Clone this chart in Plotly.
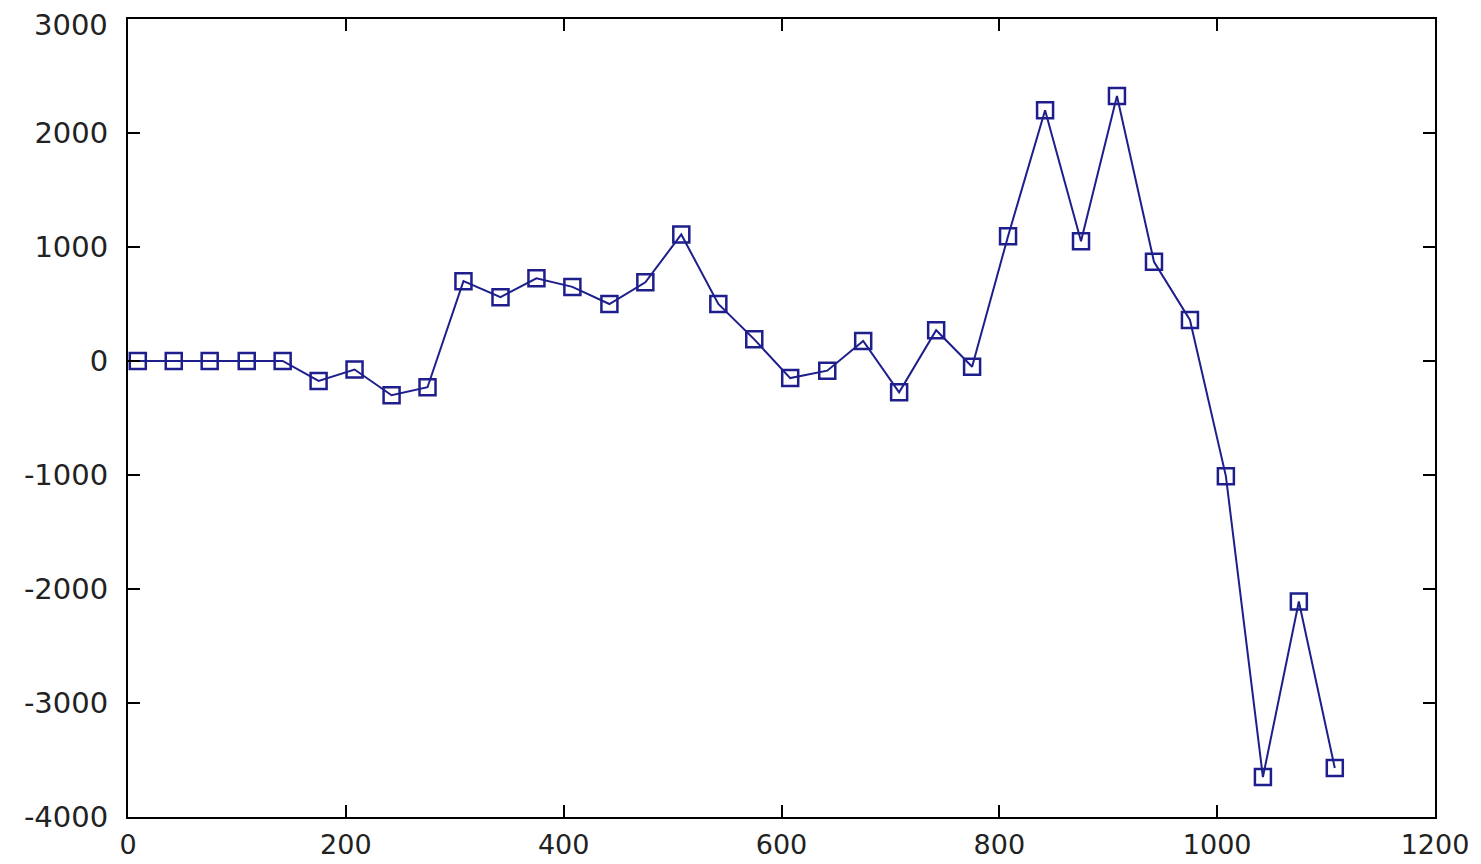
import plotly.graph_objects as go

x_vals = [9, 42, 75, 109, 142, 175, 208, 242, 275, 308, 342, 375, 408,
          442, 475, 508, 542, 575, 608, 642, 675, 708, 742, 775, 808,
          842, 875, 908, 942, 975, 1008, 1042, 1075, 1108]
y_vals = [0, 0, 0, 0, 0, -175, -75, -300, -230, 700, 560, 725, 650,
          500, 690, 1110, 500, 190, -150, -85, 175, -275, 270, -50, 1095,
          2200, 1050, 2325, 870, 360, -1010, -3650, -2110, -3570]

x_ticks = [0, 200, 400, 600, 800, 1000, 1200]
y_ticks = [-4000, -3000, -2000, -1000, 0, 1000, 2000, 3000]

color = "#1e1e8c"
font_family = "DejaVu Sans, Verdana, sans-serif"

fig = go.Figure(go.Scatter(
    x=x_vals, y=y_vals, mode="lines+markers",
    line=dict(color=color, width=2),
    marker=dict(symbol="square-open", size=16, color=color, line=dict(width=2.5, color=color)),
    showlegend=False,
))

axis_common = dict(
    showgrid=False, zeroline=False, showline=True, linecolor="black", linewidth=2,
    mirror="allticks", ticks="inside", ticklen=12, tickwidth=2, tickcolor="black",
    automargin=False, ticklabeloverflow="allow",
)

# top y label drawn as annotation, nudged slightly down so it stays inside the page
y_top = y_ticks[-1]
y_ticktext = [str(v) if v != y_top else "" for v in y_ticks]

fig.update_layout(
    width=1473, height=856,
    margin=dict(l=120, r=46, t=11, b=47),
    paper_bgcolor="white", plot_bgcolor="white",
    xaxis=dict(range=[0, 1200], tickvals=x_ticks, ticktext=[str(v) for v in x_ticks],
               ticklabelstandoff=3,
               tickfont=dict(family=font_family, size=27, color="#222"),
               **axis_common),
    yaxis=dict(range=[-4000, 3000], tickvals=y_ticks, ticktext=y_ticktext,
               ticklabelstandoff=12,
               tickfont=dict(family=font_family, size=29, color="#222"),
               **axis_common),
    annotations=[dict(
        text=str(y_top), xref="paper", x=0, yref="y", y=y_top,
        xanchor="right", yanchor="middle", xshift=-18, yshift=-6,
        showarrow=False, font=dict(family=font_family, size=29, color="#222"),
    )],
)

fig.write_html("out.html")
